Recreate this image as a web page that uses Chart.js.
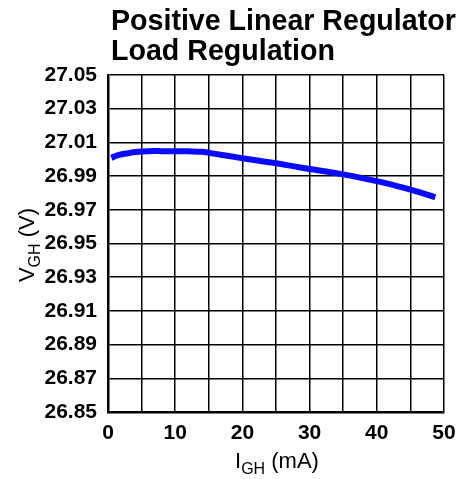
<!DOCTYPE html>
<html>
<head>
<meta charset="utf-8">
<script src="https://cdn.jsdelivr.net/npm/chart.js@4/dist/chart.umd.min.js"></script>
<style>
  html, body { margin: 0; padding: 0; background: #fff; }
  #wrap { width: 471px; height: 479px; }
</style>
</head>
<body>
<div id="wrap"><canvas id="loadCanvas"></canvas></div>
<script>
// load current I_GH (mA) and output voltage V_GH (V)
const currents = [0.5, 1.5, 3, 4.5, 6, 8, 10, 12, 14, 16, 18, 20, 22.5, 25, 27.5, 30, 32.5, 35, 37.5, 40, 42.5, 45, 47, 48.7];
const voltages = [27.0008, 27.0024, 27.0036, 27.0044, 27.0048, 27.0048, 27.0047, 27.0047, 27.0044, 27.0032, 27.0019, 27.0006, 26.9991, 26.9976, 26.9959, 26.9942, 26.9927, 26.9910, 26.9891, 26.9870, 26.9846, 26.9820, 26.9796, 26.9774];
const titleLines = ['Positive Linear Regulator', 'Load Regulation'];
const xTicks = [0, 10, 20, 30, 40, 50];

const FONT = 'Liberation Sans, Arial, Helvetica, sans-serif';

// draws title and axis titles (with subscripts)
const textPlugin = {
  id: 'textPlugin',
  afterDraw(chart) {
    const ctx = chart.ctx;
    ctx.save();
    ctx.fillStyle = '#000';
    ctx.textBaseline = 'alphabetic';
    ctx.textAlign = 'left';
    ctx.font = 'bold 28.6px ' + FONT;
    ctx.fillText(titleLines[0], 111, 30);
    ctx.fillText(titleLines[1], 111, 60);

    function subText(parts, x, y) {
      // parts: [main, sub, rest]
      ctx.font = '22px ' + FONT;
      const w1 = ctx.measureText(parts[0]).width;
      ctx.font = '16px ' + FONT;
      const w2 = ctx.measureText(parts[1]).width;
      ctx.font = '22px ' + FONT;
      const w3 = ctx.measureText(parts[2]).width;
      let sx = x - (w1 + w2 + w3) / 2;
      ctx.font = '22px ' + FONT;
      ctx.fillText(parts[0], sx, y);
      sx += w1;
      ctx.font = '16px ' + FONT;
      ctx.fillText(parts[1], sx, y + 6);
      sx += w2;
      ctx.font = '22px ' + FONT;
      ctx.fillText(parts[2], sx, y);
    }

    subText(['I', 'GH', ' (mA)'], 277, 468);

    ctx.translate(34, 245);
    ctx.rotate(-Math.PI / 2);
    subText(['V', 'GH', ' (V)'], 0, 0);
    ctx.restore();
  }
};

new Chart(document.getElementById('loadCanvas'), {
  type: 'scatter',
  data: {
    datasets: [{
      data: currents.map((c, i) => ({ x: c, y: voltages[i] })),
      showLine: true,
      borderColor: '#0a0aff',
      borderWidth: 6,
      pointRadius: 0,
      tension: 0.4,
      borderCapStyle: 'butt'
    }]
  },
  options: {
    responsive: true,
    maintainAspectRatio: false,
    animation: false,
    layout: { padding: { top: 75, right: 27, left: 0, bottom: 0 } },
    plugins: {
      legend: { display: false },
      tooltip: { enabled: false }
    },
    scales: {
      x: {
        type: 'linear',
        min: 0,
        max: 50,
        afterFit: (scale) => { scale.height = 67; },
        afterBuildTicks: (scale) => {
          const t = [];
          for (let v = 0; v <= 50; v += 5) t.push({ value: v });
          scale.ticks = t;
        },
        grid: { color: '#000', lineWidth: 1.5, drawTicks: false },
        border: { color: '#000', width: 2.5 },
        ticks: {
          padding: 9,
          color: '#000',
          font: { family: FONT, size: 21, weight: 'bold' },
          autoSkip: false,
          maxRotation: 0,
          callback: (v) => xTicks.includes(v) ? String(v) : ''
        }
      },
      y: {
        min: 26.85,
        max: 27.05,
        afterFit: (scale) => { scale.width = 108; },
        afterBuildTicks: (scale) => {
          const t = [];
          for (let i = 0; i <= 10; i++) t.push({ value: 26.85 + i * 0.02 });
          scale.ticks = t;
        },
        grid: { color: '#000', lineWidth: 1.5, drawTicks: false },
        border: { color: '#000', width: 2.5 },
        ticks: {
          padding: 11,
          color: '#000',
          font: { family: FONT, size: 21, weight: 'bold' },
          callback: (v) => Number(v).toFixed(2)
        }
      }
    }
  },
  plugins: [textPlugin]
});
</script>
</body>
</html>
